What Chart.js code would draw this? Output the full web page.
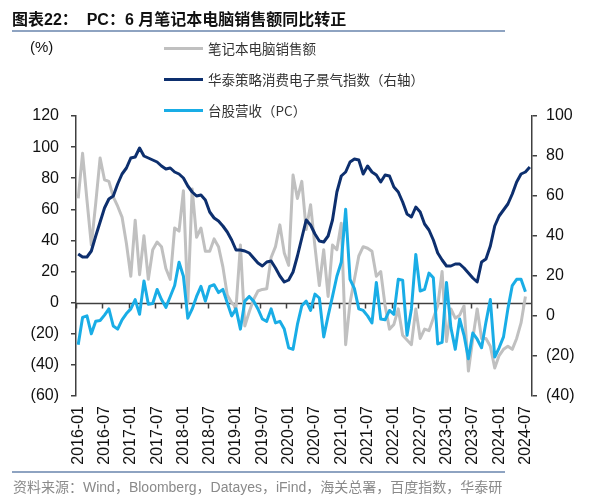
<!DOCTYPE html>
<html lang="zh-CN">
<head>
  <meta charset="UTF-8" />
  <title>PC：6 月笔记本电脑销售额同比转正</title>
  <script src="https://cdn.jsdelivr.net/npm/chart.js"></script>
  <style>
    body { margin: 0; width: 615px; height: 500px; position: relative; overflow: hidden; background: #fff; }
    canvas { position: absolute; left: 0; top: 0; }
    .txt { position: absolute; white-space: nowrap; }
    #titulo { left: 12px; top: 6px; font: bold 16px "Liberation Sans", "Noto Sans CJK SC", sans-serif; color: #111; }
    .regua { position: absolute; left: 12px; width: 493px; height: 2px; background: #8ea3c1; }
    #unidade { left: 30px; top: 38px; font: 15px "Liberation Sans", sans-serif; color: #111; }
    .leg { position: absolute; left: 164px; height: 20px; font: 13.5px "Noto Sans CJK SC", sans-serif; color: #333; white-space: nowrap; }
    .leg i { position: absolute; left: 0; top: 9px; width: 39px; height: 3px; }
    .leg span { position: absolute; left: 44px; top: 0; line-height: 20px; }
    #fonte { left: 13px; top: 476px; font: 14px "Liberation Sans", "Noto Sans CJK SC", sans-serif; color: #8a8a8a; }
  </style>
</head>
<body>
  <canvas id="grafico" width="615" height="500"></canvas>
  <div class="txt" id="titulo">图表22：&nbsp;&nbsp;PC：6 月笔记本电脑销售额同比转正</div>
  <div class="regua" style="top:30px"></div>
  <div class="txt" id="unidade">(%)</div>
  <div id="legenda"></div>
  <div class="regua" style="top:471px; height:1.5px"></div>
  <div class="txt" id="fonte">资料来源：Wind，Bloomberg，Datayes，iFind，海关总署，百度指数，华泰研</div>

  <script>
    // meses 2016-01 .. 2024-08
    var meses = [];
    for (var ano = 2016; ano <= 2024; ano++) {
      for (var m = 1; m <= 12; m++) {
        if (ano === 2024 && m > 8) break;
        meses.push(ano + '-' + (m < 10 ? '0' + m : m));
      }
    }

    var nomes = ['笔记本电脑销售额', '华泰策略消费电子景气指数（右轴）', '台股营收（PC）'];

    // 笔记本电脑销售额 (%), eixo esquerdo
    var notebook = [
      67, 96, 66, 37, 64, 93, 79, 78, 68, 62,
      55, 38, 17, 53, 18, 43, 15, 34, 39, 36,
      22, 15, 48, 46, 72, 0, 73, 42, 48, 33,
      33, 41, 36, 23, 5, 0, -3, 37, -15, -6,
      2, 7.5, 8.5, 9, 29, 36, 50, 32, 24, 82,
      67, 78, 47, 63, 36, 11, 34, 4, 37, 34,
      51, -27, 0, 15, 30, 36, 35, 33, 17, 20,
      -2, -17, -14, -4, -21, -24, -27, -4, -23, -17,
      -18, -10, -2, 20, -25, -4, -10, -8, -2, -44,
      -23, -4, -23, -23, -28, -42, -34, -30, -28, -30,
      -23, -13, 4
    ];

    // 景气指数, eixo direito
    var indice = [
      31, 29.5, 29.5, 32.5, 40, 47, 54, 58.5, 60, 66,
      71, 74, 79, 79.5, 84, 80, 79, 78, 77, 75,
      73.5, 74, 72, 71, 69, 65, 62, 60, 60.5, 58,
      52, 49, 47.5, 45, 42, 38, 33, 33, 32.5, 31.5,
      29, 26.5, 25, 27, 27.5, 24, 20, 17, 18, 22,
      30, 39, 48, 45.5, 41, 37.5, 37, 40, 48, 62,
      70, 72, 77, 78.5, 78, 71, 75, 72, 70.5, 67,
      70.5, 70, 64.5, 62, 57, 51, 49.5, 54.5, 52, 46,
      43, 38, 31.5, 28, 25, 25, 26, 26, 24, 21.5,
      19, 17, 27, 28.5, 35, 45, 50, 53, 56, 61,
      67, 71, 72, 74.5
    ];

    // 台股营收（PC） (%), eixo esquerdo
    var taiwan = [
      -27, -9.5, -8.5, -20, -12, -11.5, -8, -4, -15, -17,
      -11, -7, -4, 2, -7.5, 14, -1, -0.5, 8.5, 2,
      -3, 4, 11, 26, 17, -10, -4, 4, 10.5, 1,
      10.5, 11.5, 6.5, 8.5, 0, -8.5, -4, -17, 1, 4,
      1, -4, -10.5, -12, -4, -13, -12, -17, -29, -30,
      -14, -2, 1, -5, 5.5, 3, -22, -8.5, 4, 17,
      26, 60, 15, 9, -4, -5, -8.5, -13, 13, -10.5,
      -11, -5, -7.5, 15, 14.5, -21, -4, 31, 7.5, 8.5,
      19, 16, -26.5, -25.5, 13, -16, -30, -10.5, -21, -36,
      -19.5, -23.5, -29, -12.5, 2, -35, -29, -22, -4, 11,
      15, 15, 7
    ];

    var cores = ['#c0c0c0', '#0d2f6e', '#19ade6'];

    // legenda em html
    var legenda = document.getElementById('legenda');
    var linhasY = [38, 68.5, 99.5];
    for (var k = 0; k < nomes.length; k++) {
      var item = document.createElement('div');
      item.className = 'leg';
      item.style.top = linhasY[k] + 'px';
      item.innerHTML = '<i style="background:' + cores[k] + '"></i><span>' + nomes[k] + '</span>';
      legenda.appendChild(item);
    }

    function negativo(v) {
      return v < 0 ? '(' + (-v) + ')' : '' + v;
    }

    // linha do zero com os tracinhos a cada 6 meses
    var linhaZero = {
      id: 'linhaZero',
      beforeDatasetsDraw: function (chart) {
        var ctx = chart.ctx;
        var sx = chart.scales.x;
        var sy = chart.scales.y;
        var y0 = Math.round(sy.getPixelForValue(0)) + 0.5;
        var meio = (sx.getPixelForValue(1) - sx.getPixelForValue(0)) / 2;
        ctx.save();
        ctx.strokeStyle = '#404040';
        ctx.lineWidth = 1.5;
        ctx.beginPath();
        ctx.moveTo(chart.chartArea.left, y0);
        ctx.lineTo(chart.chartArea.right, y0);
        for (var i = 0; i < meses.length; i += 6) {
          var px = Math.round(sx.getPixelForValue(i) - meio) + 0.5;
          ctx.moveTo(px, y0);
          ctx.lineTo(px, y0 + 5);
        }
        ctx.stroke();
        ctx.restore();
      }
    };

    var fonteTicks = { family: 'Liberation Sans', size: 16 };

    new Chart(document.getElementById('grafico').getContext('2d'), {
      type: 'line',
      data: {
        labels: meses,
        datasets: [
          { label: nomes[2], data: taiwan, yAxisID: 'y', borderColor: cores[2], order: 0 },
          { label: nomes[1], data: indice, yAxisID: 'y1', borderColor: cores[1], order: 1 },
          { label: nomes[0], data: notebook, yAxisID: 'y', borderColor: cores[0], order: 2 }
        ]
      },
      options: {
        responsive: false,
        animation: false,
        devicePixelRatio: 1,
        layout: { padding: { top: 116, left: 0, right: 0, bottom: 0 } },
        elements: {
          line: { borderWidth: 3, tension: 0, borderJoinStyle: 'round', fill: false },
          point: { radius: 0, hoverRadius: 0 }
        },
        plugins: { legend: { display: false }, tooltip: { enabled: false } },
        scales: {
          x: {
            type: 'category',
            offset: true,
            grid: { display: false, drawTicks: false },
            border: { display: false },
            afterFit: function (s) { s.height = 104; },
            ticks: {
              autoSkip: false,
              minRotation: 90,
              maxRotation: 90,
              padding: 10,
              color: '#111',
              font: fonteTicks,
              callback: function (v, idx) {
                return idx % 6 === 0 ? this.getLabelForValue(v) : null;
              }
            }
          },
          y: {
            position: 'left',
            min: -60,
            max: 120,
            afterFit: function (s) { s.width = 76; },
            grid: { drawOnChartArea: false, tickLength: 5, color: '#404040', lineWidth: 1.5 },
            border: { display: true, color: '#404040', width: 1.5 },
            ticks: { stepSize: 20, padding: 12, color: '#111', font: fonteTicks, callback: negativo }
          },
          y1: {
            position: 'right',
            min: -40,
            max: 100,
            afterFit: function (s) { s.width = 83; },
            grid: { drawOnChartArea: false, tickLength: 5, color: '#404040', lineWidth: 1.5 },
            border: { display: true, color: '#404040', width: 1.5 },
            ticks: { stepSize: 20, padding: 9, color: '#111', font: fonteTicks, callback: negativo }
          }
        }
      },
      plugins: [linhaZero]
    });
  </script>
</body>
</html>
